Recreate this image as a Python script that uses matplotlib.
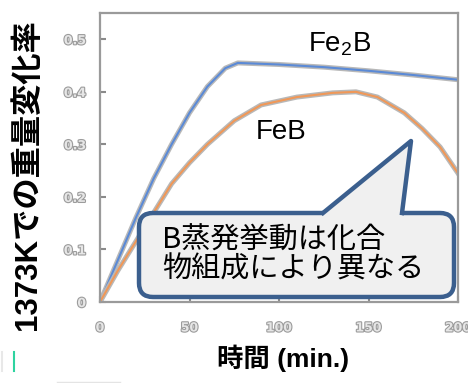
import numpy as np
import matplotlib.pyplot as plt
import matplotlib.patheffects as pe
from matplotlib.patches import FancyBboxPatch, Polygon

plt.rcParams['font.family'] = ['Noto Sans CJK JP', 'DejaVu Sans']
plt.rcParams['mathtext.fontset'] = 'custom'
plt.rcParams['mathtext.rm'] = 'Liberation Sans'

# weight change at 1373 K vs time
t_fe2b = [0, 5, 10, 20, 30, 40, 50, 60, 70, 77, 100, 125, 150, 175, 200]
w_fe2b = [0.0, 0.04, 0.08, 0.16, 0.235, 0.30, 0.36, 0.41, 0.445, 0.455, 0.452, 0.447, 0.44, 0.432, 0.423]
t_feb = [0, 10, 20, 30, 40, 50, 60, 75, 90, 110, 130, 143, 155, 170, 180, 190, 200]
w_feb = [0.0, 0.06, 0.115, 0.17, 0.225, 0.265, 0.30, 0.345, 0.375, 0.39, 0.398, 0.40, 0.39, 0.36, 0.33, 0.295, 0.245]
xticks = [0, 50, 100, 150, 200]
yticks = [0, 0.1, 0.2, 0.3, 0.4, 0.5]
ytick_labels = ['0', '0.1', '0.2', '0.3', '0.4', '0.5']

W, H = 468, 383
fig = plt.figure(figsize=(W / 100, H / 100), dpi=100)
ax = fig.add_axes([100 / W, 81 / H, 358 / W, 289 / H])

halo = [pe.Stroke(linewidth=3.6, foreground='#b8b8b8'), pe.Normal()]
ax.plot(t_fe2b, w_fe2b, color='#5b8ad6', lw=1.5, path_effects=halo)
ax.plot(t_feb, w_feb, color='#f09858', lw=1.5, path_effects=halo)

ax.set_xlim(0, 200)
ax.set_ylim(0, 0.55)
ax.set_xticks(xticks)
ax.set_yticks(yticks)
ax.set_yticklabels(ytick_labels)
for s in ax.spines.values():
    s.set_color('#9a9a9a')
    s.set_linewidth(1.6)
ax.tick_params(direction='in', length=4, width=1.5, color='#8a8a8a',
               labelsize=9, labelcolor='#e6e6e6')
ax.tick_params(axis='x', pad=14)
ax.tick_params(axis='y', pad=10)
for lab in ax.get_xticklabels() + ax.get_yticklabels():
    lab.set_path_effects([pe.withStroke(linewidth=1.6, foreground='#9c9c9c')])
    lab.set_family('DejaVu Sans')
    lab.set_weight('bold')

# overlay in pixel coordinates for the labels and callout
ov = fig.add_axes([0, 0, 1, 1])
ov.set_xlim(0, W)
ov.set_ylim(H, 0)
ov.axis('off')
lab_fonts = ['Liberation Sans', 'Noto Sans CJK JP']
ov.text(283, 358, '時間 (min.)', fontsize=19, fontweight='bold', ha='center', va='center',
        family=lab_fonts)
ov.text(28, 175, '1373Kでの重量変化率', fontsize=22.5, fontweight='bold', ha='center', va='center',
        rotation=90, family=lab_fonts)
ov.text(340, 44, 'Fe$_2$B', fontsize=20, ha='center', va='center', family='Liberation Sans')
ov.text(281, 132, 'FeB', fontsize=20, ha='center', va='center', family='Liberation Sans')

edge = '#3b5f8e'
fill = '#f0f0f0'
box = FancyBboxPatch((139, 213), 315, 84, boxstyle='round,pad=0,rounding_size=14',
                     fc=fill, ec=edge, lw=3.2)
ov.add_patch(box)
ov.add_patch(Polygon([(322, 217), (324, 213), (411, 141), (402, 213), (402, 217)],
                     closed=True, fc=fill, ec='none'))
ov.plot([323, 411, 402], [213, 141, 213], color=edge, lw=3.2, solid_joinstyle='round')
ov.text(162, 241, 'B蒸発挙動は化合', fontsize=21, va='center', ha='left')
ov.text(162, 270, '物組成により異なる', fontsize=21, va='center', ha='left')

# small marks at the lower left edge
ov.plot([14, 14], [352, 371], color='#2ed3a0', lw=1.5)
ov.plot([2, 2], [352, 371], color='#e8e8e8', lw=1.5)
ov.plot([57, 120], [382, 382], color='#e4e4e4', lw=1)

fig.savefig('out.png', dpi=100)
